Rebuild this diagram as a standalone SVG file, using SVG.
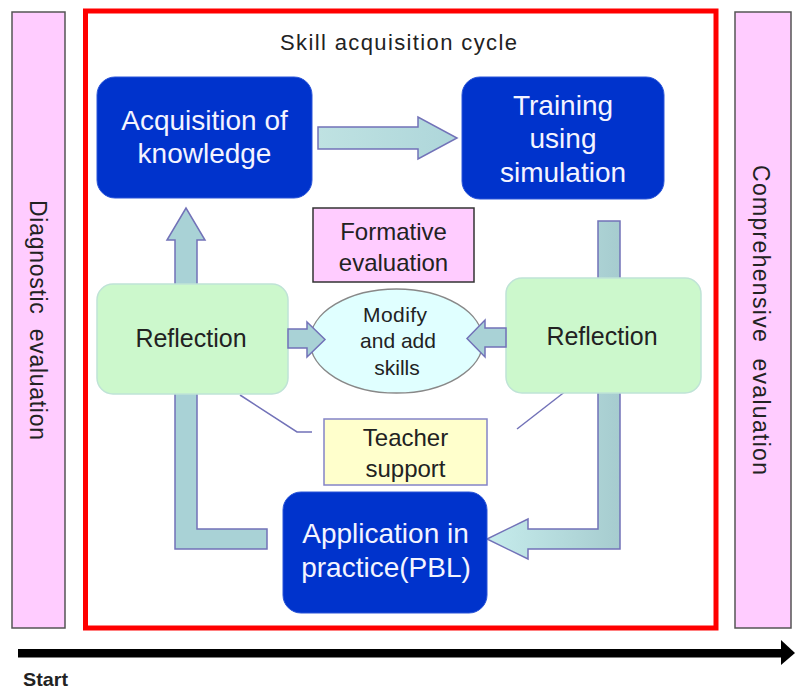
<svg xmlns="http://www.w3.org/2000/svg" width="795" height="692" viewBox="0 0 795 692">
<defs>
<style>
.lbl{font-family:"Liberation Sans",Arial,sans-serif;fill:#222;}
.wht{font-family:"Liberation Sans",Arial,sans-serif;fill:#f4f4ff;font-size:28px;text-anchor:middle;}
.blue{fill:#0033cc;stroke:#2a55d8;stroke-width:1;}
.refl{fill:#ccf8cc;stroke:#bfe3d6;stroke-width:1.5;}
.pink{fill:#ffccff;stroke:#555;stroke-width:1.5;}
.arr{fill:#a9d2d6;stroke:#7272b8;stroke-width:1.5;}
.ln{fill:none;stroke:#7272b8;stroke-width:1.5;}
</style>
<linearGradient id="gTop" x1="0" y1="0" x2="1" y2="0">
<stop offset="0" stop-color="#bfe2e2"/>
<stop offset="1" stop-color="#aed6da"/>
</linearGradient>
<linearGradient id="gBot" gradientUnits="userSpaceOnUse" x1="487" y1="0" x2="620" y2="0">
<stop offset="0" stop-color="#c6ecec"/>
<stop offset="1" stop-color="#a6cccf"/>
</linearGradient>
</defs>
<rect width="795" height="692" fill="#ffffff"/>

<g id="diagnostic">
<rect class="pink" x="12" y="12" width="53" height="616"/>
<text class="lbl" font-size="23" text-anchor="middle" textLength="240" lengthAdjust="spacing" transform="translate(30,320) rotate(90)" xml:space="preserve">Diagnostic  evaluation</text>
</g>

<g id="comprehensive">
<rect class="pink" x="735" y="12" width="56" height="616"/>
<text class="lbl" font-size="23" text-anchor="middle" textLength="310" lengthAdjust="spacing" transform="translate(753,320) rotate(90)" xml:space="preserve">Comprehensive  evaluation</text>
</g>

<g id="cycle">
<rect x="85.5" y="11" width="630.5" height="617" fill="none" stroke="#ff0000" stroke-width="5"/>
<text class="lbl" x="398.5" y="50" font-size="22" text-anchor="middle" textLength="237" lengthAdjust="spacing">Skill acquisition cycle</text>
</g>

<g id="connectors">
<path class="arr" style="fill:url(#gTop)" d="M318 127 L418 127 L418 117 L457 138 L418 159 L418 149 L318 149 Z"/>
<path class="arr" d="M267 529 L197 529 L197 240 L205 240 L186 208 L167 240 L175 240 L175 549 L267 549 Z"/>
<path class="arr" style="fill:url(#gBot)" d="M598 221 L620 221 L620 549 L528 549 L528 559 L487 539 L528 519 L528 529 L598 529 Z"/>
<polyline class="ln" points="240,395 297,432 312,432"/>
<line class="ln" x1="571" y1="387" x2="517" y2="429"/>
</g>

<g id="acquisition">
<rect class="blue" x="97" y="77" width="215" height="121" rx="18"/>
<text class="wht" x="204.5" y="130">Acquisition of</text>
<text class="wht" x="204.5" y="163">knowledge</text>
</g>

<g id="training">
<rect class="blue" x="462" y="77" width="202" height="122" rx="18"/>
<text class="wht" x="563" y="115">Training</text>
<text class="wht" x="563" y="148">using</text>
<text class="wht" x="563" y="182">simulation</text>
</g>

<g id="formative">
<rect class="pink" x="313" y="208" width="161" height="74" style="stroke:#333"/>
<text class="lbl" x="393.5" y="240" font-size="24" text-anchor="middle">Formative</text>
<text class="lbl" x="393.5" y="271" font-size="24" text-anchor="middle">evaluation</text>
</g>

<g id="modify">
<ellipse cx="396.5" cy="341" rx="86.5" ry="52" fill="#e0ffff" stroke="#888" stroke-width="1.5"/>
<text class="lbl" x="395" y="322" font-size="21" text-anchor="middle" textLength="64" lengthAdjust="spacing">Modify</text>
<text class="lbl" x="398" y="348" font-size="21" text-anchor="middle">and add</text>
<text class="lbl" x="397" y="375" font-size="21" text-anchor="middle">skills</text>
</g>

<g id="reflection-left">
<rect class="refl" x="97" y="284" width="191" height="110" rx="16"/>
<text class="lbl" x="191" y="347" font-size="25" text-anchor="middle">Reflection</text>
</g>

<g id="reflection-right">
<rect class="refl" x="506" y="278" width="195" height="115" rx="16"/>
<text class="lbl" x="602" y="345" font-size="25" text-anchor="middle">Reflection</text>
</g>

<g id="side-arrows">
<path class="arr" d="M288 329 L307 329 L307 322 L325 339.5 L307 357 L307 348 L288 348 Z"/>
<path class="arr" d="M506 328 L485 328 L485 320 L467 338.5 L485 357 L485 347 L506 347 Z"/>
</g>

<g id="teacher">
<rect x="324" y="419" width="163" height="66" fill="#ffffcc" stroke="#8484c8" stroke-width="1.5"/>
<text class="lbl" x="405.5" y="446" font-size="24" text-anchor="middle">Teacher</text>
<text class="lbl" x="405.5" y="477" font-size="24" text-anchor="middle">support</text>
</g>

<g id="application">
<rect class="blue" x="283" y="492" width="204" height="121" rx="18"/>
<text class="wht" x="385.5" y="543">Application in</text>
<text class="wht" x="386" y="577">practice(PBL)</text>
</g>

<g id="timeline">
<rect x="18" y="649" width="765" height="8.5" fill="#000"/>
<polygon points="781,640 795,653 781,665" fill="#000"/>
<text x="23" y="686" font-family="'Liberation Sans',Arial,sans-serif" font-weight="bold" font-size="19" fill="#222" textLength="45" lengthAdjust="spacingAndGlyphs">Start</text>
</g>
</svg>
